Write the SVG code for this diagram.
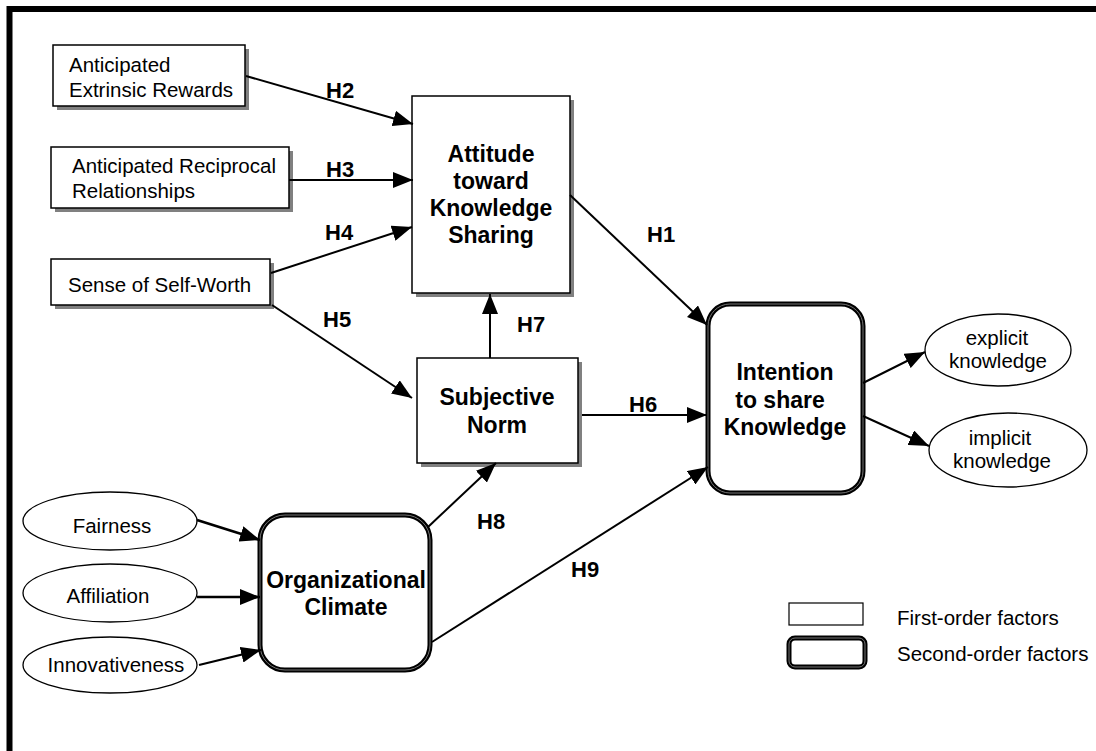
<svg xmlns="http://www.w3.org/2000/svg" width="1096" height="751" viewBox="0 0 1096 751">
<defs>
<marker id="arr" markerUnits="userSpaceOnUse" markerWidth="20" markerHeight="16" refX="20" refY="8" orient="auto">
<path d="M0,0 L20,8 L0,16 Z" fill="#000"/>
</marker>
<style>
text{font-family:"Liberation Sans",Arial,sans-serif;fill:#000}
.r{font-size:20.5px}
.b{font-size:23px;font-weight:bold}
.h{font-size:22px;font-weight:bold}
.box{fill:#fff;stroke:#000;stroke-width:1.5}
.sh{fill:#808080}
.ell{fill:#fff;stroke:#000;stroke-width:1.3}
.so{fill:#fff;stroke:#000;stroke-width:5}
.si{fill:none;stroke:#777;stroke-width:1}
.c line{stroke:#000;stroke-width:2;marker-end:url(#arr)}
</style>
</defs>
<rect width="1096" height="751" fill="#fff"/>
<path d="M9.5,751 V9 H1096" fill="none" stroke="#000" stroke-width="6"/>

<g id="extrinsic">
<rect class="sh" x="57" y="49" width="192" height="61"/>
<rect class="box" x="53" y="45" width="192" height="61"/>
<text class="r" x="69" y="72">Anticipated</text>
<text class="r" x="69" y="97">Extrinsic Rewards</text>
</g>
<g id="reciprocal">
<rect class="sh" x="55" y="151" width="238" height="61"/>
<rect class="box" x="51" y="147" width="238" height="61"/>
<text class="r" x="72" y="173">Anticipated Reciprocal</text>
<text class="r" x="72" y="198">Relationships</text>
</g>
<g id="selfworth">
<rect class="sh" x="55" y="263" width="219" height="46"/>
<rect class="box" x="51" y="259" width="219" height="46"/>
<text class="r" x="68" y="292">Sense of Self-Worth</text>
</g>
<g id="attitude">
<rect class="sh" x="416" y="100" width="158" height="197"/>
<rect class="box" x="412" y="96" width="158" height="197"/>
<text class="b" x="491" y="162" text-anchor="middle">Attitude</text>
<text class="b" x="491" y="189" text-anchor="middle">toward</text>
<text class="b" x="491" y="216" text-anchor="middle">Knowledge</text>
<text class="b" x="491" y="243" text-anchor="middle">Sharing</text>
</g>
<g id="subjective">
<rect class="sh" x="421" y="362" width="161" height="105"/>
<rect class="box" x="417" y="358" width="161" height="105"/>
<text class="b" x="497" y="405" text-anchor="middle">Subjective</text>
<text class="b" x="497" y="433" text-anchor="middle">Norm</text>
</g>
<g id="intention">
<rect class="so" x="708" y="304" width="155" height="189" rx="22"/>
<rect class="si" x="708" y="304" width="155" height="189" rx="22"/>
<text class="b" x="785" y="380" text-anchor="middle">Intention</text>
<text class="b" x="780" y="408" text-anchor="middle">to share</text>
<text class="b" x="785" y="435" text-anchor="middle">Knowledge</text>
</g>
<g id="orgclimate">
<rect class="so" x="260" y="515" width="170" height="155" rx="25"/>
<rect class="si" x="260" y="515" width="170" height="155" rx="25"/>
<text class="b" x="346" y="588" text-anchor="middle">Organizational</text>
<text class="b" x="346" y="615" text-anchor="middle">Climate</text>
</g>
<g id="fairness">
<ellipse class="ell" cx="110" cy="521" rx="87" ry="29"/>
<text class="r" x="112" y="533" text-anchor="middle">Fairness</text>
</g>
<g id="affiliation">
<ellipse class="ell" cx="110" cy="593" rx="87" ry="29"/>
<text class="r" x="108" y="603" text-anchor="middle">Affiliation</text>
</g>
<g id="innovativeness">
<ellipse class="ell" cx="110" cy="665" rx="87" ry="28"/>
<text class="r" x="116" y="672" text-anchor="middle">Innovativeness</text>
</g>
<g id="explicit">
<ellipse class="ell" cx="998" cy="350" rx="73" ry="36"/>
<text class="r" x="997" y="345" text-anchor="middle">explicit</text>
<text class="r" x="998" y="368" text-anchor="middle">knowledge</text>
</g>
<g id="implicit">
<ellipse class="ell" cx="1008" cy="450" rx="79" ry="37"/>
<text class="r" x="1000" y="445" text-anchor="middle">implicit</text>
<text class="r" x="1002" y="468" text-anchor="middle">knowledge</text>
</g>

<g id="connectors" class="c">
<line x1="246" y1="76" x2="413" y2="124"/>
<line x1="289" y1="180" x2="413" y2="180"/>
<line x1="271" y1="273" x2="412" y2="227"/>
<line x1="272" y1="305" x2="412" y2="398"/>
<line x1="570" y1="195" x2="707" y2="325"/>
<line x1="490" y1="358" x2="490" y2="294"/>
<line x1="582" y1="415" x2="707" y2="415"/>
<line x1="428" y1="527" x2="496" y2="463"/>
<line x1="432" y1="642" x2="708" y2="467"/>
<line x1="197" y1="520" x2="260" y2="540" style="stroke-width:2.6"/>
<line x1="197" y1="597" x2="260" y2="597" style="stroke-width:2.6"/>
<line x1="199" y1="665" x2="261" y2="650" style="stroke-width:2.2"/>
<line x1="863" y1="383" x2="925" y2="352"/>
<line x1="863" y1="416" x2="929" y2="446"/>
</g>

<g id="labels">
<text class="h" x="326" y="98">H2</text>
<text class="h" x="326" y="177">H3</text>
<text class="h" x="325" y="240">H4</text>
<text class="h" x="323" y="327">H5</text>
<text class="h" x="647" y="242">H1</text>
<text class="h" x="517" y="332">H7</text>
<text class="h" x="629" y="412">H6</text>
<text class="h" x="477" y="529">H8</text>
<text class="h" x="571" y="577">H9</text>
</g>

<g id="legend">
<rect x="789" y="603" width="74" height="22" fill="#fff" stroke="#000" stroke-width="1.2"/>
<rect class="so" x="789" y="638" width="76" height="29" rx="6"/>
<rect class="si" x="789" y="638" width="76" height="29" rx="6"/>
<text class="r" x="897" y="625">First-order factors</text>
<text class="r" x="897" y="661">Second-order factors</text>
</g>
</svg>
